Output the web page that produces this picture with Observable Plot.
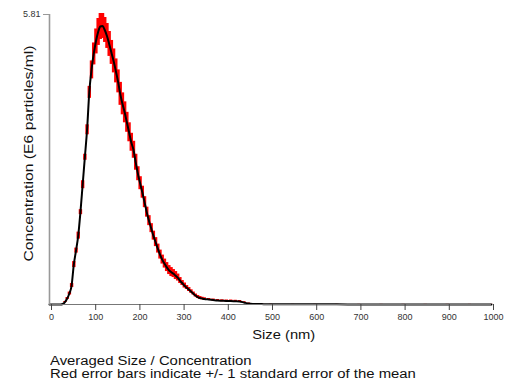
<!DOCTYPE html>
<html>
<head>
<meta charset="utf-8">
<script src="https://cdn.jsdelivr.net/npm/d3@7"></script>
<script src="https://cdn.jsdelivr.net/npm/@observablehq/plot@0.6"></script>
<style>
  body { margin: 0; background: #fff; font-family: "Liberation Sans", Arial, sans-serif; }
  #chart { width: 513px; height: 345px; }
  .cap { margin-left: 50px; margin-top: 10px; font-size: 12.5px; line-height: 12.5px; color: #111;
         transform: scaleX(1.19); transform-origin: 0 0; width: 380px; }
</style>
</head>
<body>
<div id="chart"></div>
<div class="cap">Averaged Size / Concentration<br>Red error bars indicate +/- 1 standard error of the mean</div>
<script>
const sizes = [0,5,10,15,20,25,30,35,40,45,50,55,60,65,70,75,80,85,90,95,
  100,105,110,115,120,125,130,135,140,145,150,155,160,165,170,175,180,185,190,195,
  200,205,210,215,220,225,230,235,240,245,250,255,260,265,270,275,280,285,290,295,
  300,305,310,315,320,325,330,335,340,345,350,360,370,380,390,400,410,420,430,440,
  450,460,480,500,550,600,650,700,750,800,850,900,950,1000];
const conc = [0,0,0,0,0,0,0.01,0.05,0.12,0.22,0.38,0.8,1.08,1.38,1.85,2.4,2.95,3.5,4.25,4.7,
  5.02,5.27,5.46,5.57,5.58,5.5,5.38,5.22,5.05,4.88,4.68,4.47,4.22,4.02,3.85,3.65,3.45,3.25,3.1,2.85,
  2.62,2.43,2.25,2.05,1.85,1.68,1.53,1.38,1.25,1.12,1.0,0.9,0.82,0.75,0.69,0.65,0.62,0.58,0.54,0.48,
  0.43,0.38,0.34,0.3,0.26,0.22,0.18,0.15,0.13,0.12,0.11,0.1,0.09,0.08,0.075,0.07,0.07,0.065,0.06,0.04,
  0.02,0.012,0.008,0.005,0.004,0.003,0.003,0.002,0.002,0.002,0.002,0.002,0.002,0.002];
const sem = [0,0,0,0,0,0,0,0.01,0.02,0.03,0.04,0.06,0.05,0.07,0.05,0.08,0.06,0.1,0.12,0.18,
  0.22,0.25,0.27,0.26,0.25,0.25,0.25,0.25,0.24,0.24,0.24,0.23,0.23,0.22,0.21,0.2,0.19,0.18,0.17,0.16,
  0.14,0.13,0.12,0.11,0.1,0.1,0.09,0.09,0.09,0.09,0.09,0.09,0.09,0.09,0.09,0.09,0.08,0.08,0.07,0.06,
  0.05,0.05,0.04,0.04,0.035,0.03,0.03,0.03,0.03,0.025,0.025,0.02,0.02,0.02,0.02,0.02,0.02,0.02,0.02,0.015,
  0.01,0.005,0.003,0.002,0.001,0.001,0.001,0.001,0.001,0.001,0.001,0.001,0.001,0.001];
const xTicks = [0,100,200,300,400,500,600,700,800,900,1000];
const yTicks = [5.81];
const xTitle = "Size (nm)";
const yTitle = "Concentration (E6 particles/ml)";

const data = sizes.map((s, i) => ({size: s, conc: conc[i], lo: conc[i] - sem[i], hi: conc[i] + sem[i]}));

const chart = Plot.plot({
  width: 513,
  height: 345,
  marginLeft: 49,
  marginRight: 22,
  marginTop: 14,
  marginBottom: 41,
  style: {fontFamily: "'Liberation Sans', Arial, sans-serif", fontSize: "9px", color: "#333", background: "#fff"},
  x: {domain: [0, 1000]},
  y: {domain: [0, 5.81]},
  marks: [
    Plot.ruleX(data, {x: "size", y1: "lo", y2: "hi", stroke: "#ff0000", strokeWidth: 3.4}),
    Plot.line(data, {x: "size", y: "conc", stroke: "#000", strokeWidth: 2, curve: "monotone-x"}),
    Plot.ruleX([0], {y1: 0, y2: 5.81, stroke: "#999", strokeWidth: 1.6}),
    Plot.ruleY([0], {x1: 0, x2: 1000, stroke: "#777", strokeWidth: 1.2}),
    Plot.axisX({ticks: xTicks, tickSize: 6, tickPadding: 3, dx: 2, stroke: "#444",
      tickFormat: d3.format("d"), label: null}),
    Plot.axisY({ticks: yTicks, tickSize: 6, tickPadding: 3, stroke: "#999", tickFormat: d => "5.81",
      label: null}),
    Plot.text([xTitle], {x: () => 530, frameAnchor: "bottom", dy: 34, fontSize: 13.5, fill: "#111", className: "xtitle"}),
    Plot.text([yTitle], {frameAnchor: "left", textAnchor: "middle", dx: -21, dy: -6, rotate: -90, fontSize: 13.5, fill: "#111", className: "ytitle"})
  ]
});
document.getElementById("chart").appendChild(chart);
const fit = (sel, len) => chart.querySelectorAll(sel).forEach(t => {
  t.setAttribute("textLength", len);
  t.setAttribute("lengthAdjust", "spacingAndGlyphs");
});
fit(".xtitle text", 63);
fit(".ytitle text", 216);
</script>
</body>
</html>
